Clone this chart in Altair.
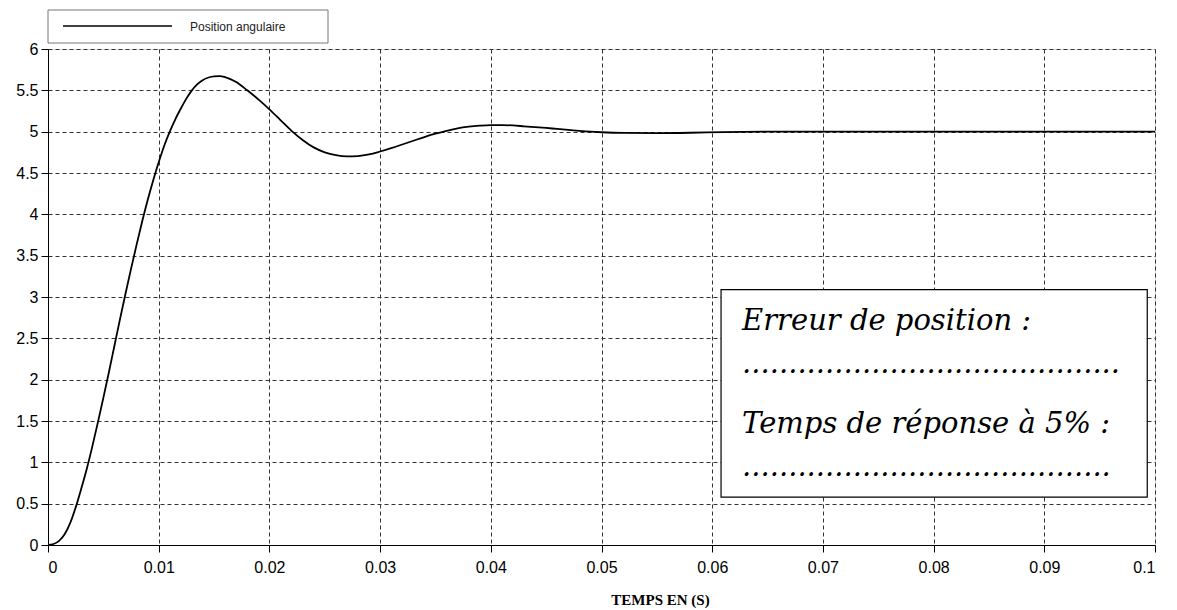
import altair as alt
import pandas as pd

# Step response
t_vals = [0, 0.0005, 0.001, 0.0015, 0.002, 0.0025, 0.003, 0.0035, 0.004, 0.0045,
          0.005, 0.0055, 0.006, 0.0065, 0.007, 0.0075, 0.008, 0.0085, 0.009, 0.0095,
          0.010, 0.0105, 0.011, 0.0115, 0.012, 0.0125, 0.013, 0.0135, 0.014, 0.0145,
          0.015, 0.0155, 0.016, 0.017, 0.018, 0.019, 0.020, 0.021, 0.022, 0.023,
          0.024, 0.025, 0.026, 0.027, 0.028, 0.029, 0.030, 0.031, 0.032, 0.033,
          0.034, 0.035, 0.036, 0.037, 0.038, 0.039, 0.040, 0.041, 0.042, 0.043,
          0.044, 0.045, 0.046, 0.047, 0.048, 0.049, 0.050, 0.052, 0.055, 0.058,
          0.061, 0.065, 0.070, 0.080, 0.090, 0.100]
pos_vals = [0, 0.012, 0.05, 0.13, 0.265, 0.455, 0.68, 0.92, 1.19, 1.48,
            1.78, 2.09, 2.41, 2.73, 3.04, 3.34, 3.63, 3.91, 4.17, 4.41,
            4.63, 4.83, 5.00, 5.15, 5.28, 5.40, 5.50, 5.575, 5.625, 5.655,
            5.67, 5.672, 5.66, 5.60, 5.50, 5.39, 5.27, 5.14, 5.01, 4.90,
            4.81, 4.75, 4.715, 4.70, 4.705, 4.725, 4.76, 4.80, 4.845, 4.89,
            4.935, 4.975, 5.01, 5.04, 5.06, 5.073, 5.08, 5.08, 5.075, 5.065,
            5.055, 5.045, 5.033, 5.022, 5.01, 5.0, 4.993, 4.985, 4.983, 4.987,
            4.995, 5.0, 5.0, 5.0, 5.0, 5.0]
series_name = "Position angulaire"

x_ticks = [0, 0.01, 0.02, 0.03, 0.04, 0.05, 0.06, 0.07, 0.08, 0.09, 0.1]
y_ticks = [0, 0.5, 1, 1.5, 2, 2.5, 3, 3.5, 4, 4.5, 5, 5.5, 6]

note_lines = ["Erreur de position :",
              "." * 41,
              "Temps de réponse à 5% :",
              "." * 40]
note_x = [0.0627, 0.0627, 0.0627, 0.0627]
note_y = [2.60, 2.08, 1.355, 0.84]

df = pd.DataFrame({"t": t_vals, "pos": pos_vals})

xscale = alt.Scale(domain=[0, 0.1], nice=False, zero=False)
yscale = alt.Scale(domain=[0, 6], nice=False, zero=False)

grid_axis = dict(
    grid=True, gridDash=[4, 3], gridColor="#333333", gridOpacity=1, gridWidth=1,
    domainColor="black", tickColor="black", tickSize=7,
    labelFont="Liberation Sans", labelFontSize=16, labelColor="black",
    format="~g",
)

line = alt.Chart(df).mark_line(color="black", strokeWidth=1.8, interpolate="monotone").encode(
    x=alt.X("t:Q", scale=xscale,
            axis=alt.Axis(values=x_ticks, title="TEMPS EN (S)",
                          titleFont="Liberation Serif", titleFontSize=15, titleFontWeight="bold",
                          titleColor="black", titleX=612, titleY=59, titleAlign="center",
                          titleBaseline="alphabetic", labelPadding=7, **grid_axis)),
    y=alt.Y("pos:Q", scale=yscale,
            axis=alt.Axis(values=y_ticks, title=None, labelPadding=3, **grid_axis)),
)

# legend box (drawn above the plot area, top-left)
one = pd.DataFrame({"serie": [series_name]})
leg_box = alt.Chart(one).mark_rect(fill="white", stroke="#777777", strokeWidth=1).encode(
    x=alt.value(0), x2=alt.value(280), y=alt.value(-39), y2=alt.value(-6))
leg_line = alt.Chart(one).mark_rule(color="black", strokeWidth=1.6).encode(
    x=alt.value(15), x2=alt.value(124), y=alt.value(-23))
leg_text = alt.Chart(one).mark_text(
    align="left", baseline="middle", font="Liberation Sans", fontSize=12, color="#222222"
).encode(x=alt.value(142), y=alt.value(-22), text="serie:N")

box = alt.Chart(pd.DataFrame({"x": [0.0608], "x2": [0.0993], "y": [0.58], "y2": [3.09]})).mark_rect(
    fill="white", stroke="black", strokeWidth=1.2
).encode(x=alt.X("x:Q", scale=xscale), x2="x2:Q", y=alt.Y("y:Q", scale=yscale), y2="y2:Q")

notes = pd.DataFrame({"x": note_x, "y": note_y, "txt": note_lines})
note_text = alt.Chart(notes).mark_text(
    align="left", baseline="alphabetic", font="DejaVu Serif", fontStyle="italic",
    fontSize=29, color="black"
).encode(x=alt.X("x:Q", scale=xscale), y=alt.Y("y:Q", scale=yscale), text="txt:N")

chart = alt.layer(line, box, note_text, leg_box, leg_line, leg_text).properties(
    width=1107, height=496,
    autosize=alt.AutoSizeParams(type="none"),
    padding={"left": 40, "top": 41, "right": 14, "bottom": 64},
).configure_view(stroke="black", strokeWidth=1).configure(background="white")

chart.save("out.html", embed_options={"renderer": "svg", "actions": False})
